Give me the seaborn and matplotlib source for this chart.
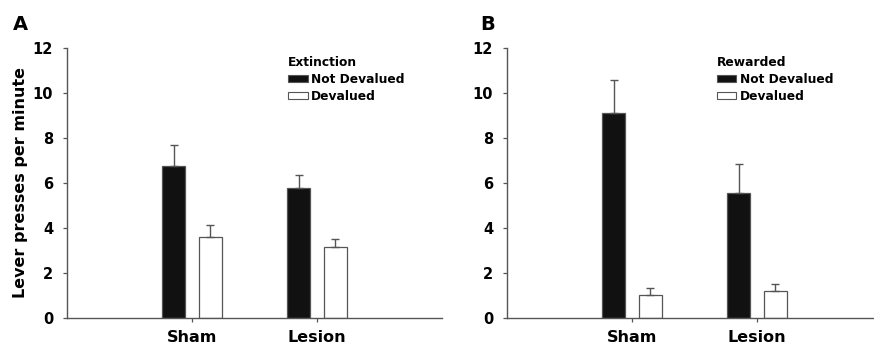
import matplotlib
matplotlib.use("Agg")
import matplotlib.pyplot as plt
from matplotlib.patches import Patch
import numpy as np
import pandas as pd
import seaborn as sns

# Group / condition labels
groups = ["Sham", "Lesion"]
conditions = ["Not Devalued", "Devalued"]

# Panel A: extinction test (mean lever presses per minute, SEM)
ext_not_devalued = [6.76, 5.79]
ext_not_devalued_sem = [0.91, 0.58]
ext_devalued = [3.59, 3.17]
ext_devalued_sem = [0.53, 0.34]

# Panel B: rewarded test
rew_not_devalued = [9.10, 5.54]
rew_not_devalued_sem = [1.46, 1.32]
rew_devalued = [1.02, 1.21]
rew_devalued_sem = [0.30, 0.30]

y_ticks = [0, 2, 4, 6, 8, 10, 12]

sns.set_style("ticks")
plt.rcParams["font.family"] = ["DejaVu Sans"]
plt.rcParams["font.weight"] = "bold"
for key in ["text.color", "axes.labelcolor", "xtick.labelcolor", "ytick.labelcolor"]:
    plt.rcParams[key] = "#000000"

SPINE = "#555555"
palette = {"Not Devalued": "#111111", "Devalued": "#ffffff"}


def build_frame(not_dev, dev):
    rows = []
    for g, v in zip(groups, not_dev):
        rows.append({"group": g, "condition": conditions[0], "value": v})
    for g, v in zip(groups, dev):
        rows.append({"group": g, "condition": conditions[1], "value": v})
    return pd.DataFrame(rows)


def draw_panel(ax, not_dev, not_dev_sem, dev, dev_sem, legend_title, legend_x,
               letter, letter_x):
    df = build_frame(not_dev, dev)
    sns.barplot(data=df, x="group", y="value", hue="condition",
                order=groups, hue_order=conditions, palette=palette,
                width=0.59, gap=0.36, errorbar=None, legend=False,
                edgecolor=SPINE, linewidth=0.9, ax=ax)

    # upward-only SEM bars on each bar
    for container, sems in zip(ax.containers, [not_dev_sem, dev_sem]):
        xs = [p.get_x() + p.get_width() / 2 for p in container.patches]
        ys = [p.get_height() for p in container.patches]
        ax.errorbar(xs, ys, yerr=[np.zeros(len(sems)), sems], fmt="none",
                    ecolor=SPINE, elinewidth=1.0, capsize=2.9, capthick=1.0,
                    zorder=1)

    ax.set_xlim(-1, 2)
    ax.set_ylim(0, 12)
    ax.set_yticks(y_ticks)
    ax.set_xlabel("")
    ax.set_ylabel("")
    for side in ["top", "right"]:
        ax.spines[side].set_visible(False)
    for side in ["left", "bottom"]:
        ax.spines[side].set_color(SPINE)
        ax.spines[side].set_linewidth(1.0)
    ax.tick_params(axis="y", direction="out", length=3, width=0.9,
                   color=SPINE, labelcolor="#000000", pad=7, labelsize=10.5)
    ax.tick_params(axis="x", direction="out", length=3, width=0.9,
                   color=SPINE, labelcolor="#000000", pad=6, labelsize=11.5)
    for lab in ax.get_xticklabels() + ax.get_yticklabels():
        lab.set_fontweight("bold")

    handles = [Patch(facecolor=palette[c], edgecolor=SPINE, linewidth=0.8, label=c)
               for c in conditions]
    leg = ax.legend(handles=handles, title=legend_title, frameon=False,
                    loc="upper left", bbox_to_anchor=(legend_x, 0.985),
                    alignment="left", fontsize=8.8, title_fontsize=8.8,
                    handlelength=1.6, handleheight=0.5, handletextpad=0.25,
                    labelspacing=0.35, borderaxespad=0, borderpad=0.3)
    leg.get_title().set_fontweight("bold")
    leg.get_title().set_color("#000000")
    for t in leg.get_texts():
        t.set_fontweight("bold")
        t.set_color("#000000")

    ax.figure.text(letter_x, 0.913, letter, fontsize=14, fontweight="heavy",
                   color="#000000", ha="left", va="baseline")


fig = plt.figure(figsize=(8.74, 3.45), dpi=100)
ax_a = fig.add_axes([67 / 874, 1 - 318 / 345, 375 / 874, 270 / 345])
ax_b = fig.add_axes([507 / 874, 1 - 318 / 345, 375 / 874, 270 / 345])

draw_panel(ax_a, ext_not_devalued, ext_not_devalued_sem, ext_devalued,
           ext_devalued_sem, "Extinction", 0.58, "A", 13 / 874)
draw_panel(ax_b, rew_not_devalued, rew_not_devalued_sem, rew_devalued,
           rew_devalued_sem, "Rewarded", 0.55, "B", 480 / 874)

ax_a.set_ylabel("Lever presses per minute", fontsize=11.5, fontweight="bold",
                color="#000000")
ax_a.yaxis.set_label_coords(-0.104, 0.5)

fig.savefig("out.png", dpi=100)
